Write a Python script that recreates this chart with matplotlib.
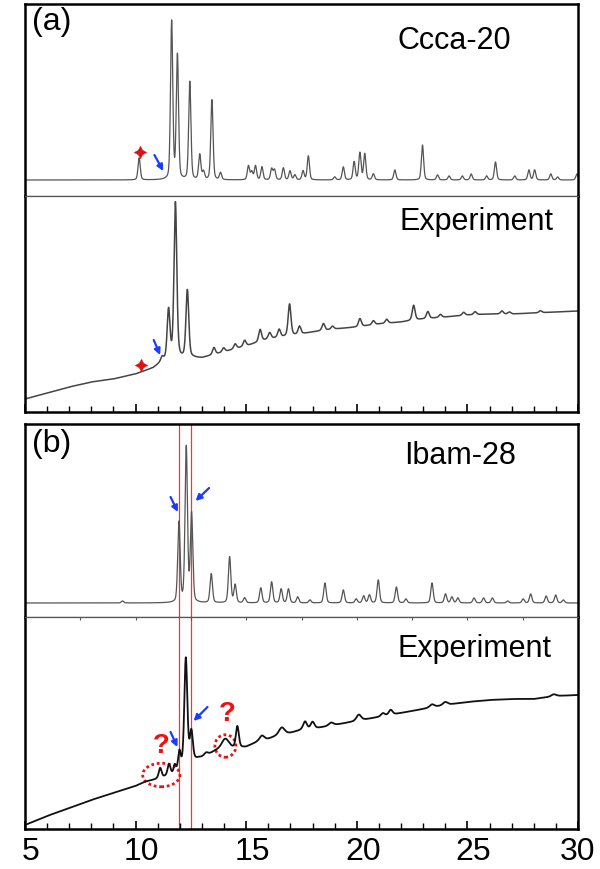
import numpy as np
import matplotlib.pyplot as plt
from matplotlib.patches import Ellipse
from matplotlib.ticker import MultipleLocator
from matplotlib.transforms import ScaledTranslation

plt.rcParams['font.family'] = ['Liberation Sans', 'DejaVu Sans']

# --- (a) Ccca-20 simulated pattern: peak positions (2theta) and heights
ccca_pos = [10.16, 11.63, 11.89, 12.45, 12.9, 13.07, 13.45, 13.84, 15.1, 15.25, 15.42, 15.71,
            16.15, 16.28, 16.68, 16.98, 17.2, 17.57, 17.81, 19.0, 19.39, 19.88, 20.14, 20.36,
            20.75, 21.72, 22.97, 23.65, 24.17, 24.77, 25.17, 25.87, 26.27, 27.14, 27.78, 28.04,
            28.77, 29.08, 29.95]
ccca_h = [22, 158, 124, 98, 25, 8, 80, 7, 14, 8, 14, 13,
          11, 10, 12, 9, 5, 9, 24, 3, 13, 18, 27, 26,
          6, 10, 35, 5, 4, 4, 6, 4, 18, 4, 10, 10,
          6, 3, 6]

# --- (a) experiment: peaks + background knots
expa_pos = [11.2, 11.49, 11.8, 12.34, 13.54, 13.98, 14.5, 14.93, 15.63, 16.06, 16.49, 16.96,
            17.41, 18.49, 18.9, 20.14, 20.75, 21.35, 22.57, 23.21, 23.78, 24.83, 25.35, 26.56,
            26.9, 28.3]
expa_h = [4, 50, 157, 68, 7, 4, 5, 6, 12, 6, 8, 32,
          8, 7, 3, 8, 4, 4, 15, 7, 3, 3, 3, 3,
          2, 2]
expa_bg_x = [5, 6, 7, 8, 8.5, 9, 10, 10.8, 11.2, 12.6, 13.0, 14, 15, 16, 17, 18, 19, 20, 21,
             22, 23, 24, 25, 26, 27, 28, 29, 30]
expa_bg_y = [13, 19, 25, 30, 31.5, 33, 38, 44, 50, 54, 54, 60, 66, 73, 76, 80, 83, 85, 88,
             90, 93, 95, 97, 98, 98, 99, 100, 101]

# --- (b) Ibam-28 simulated pattern
ibam_pos = [9.41, 11.96, 12.29, 12.53, 13.42, 14.25, 14.5, 14.93, 15.66, 16.15, 16.58, 16.91,
            17.33, 17.88, 18.56, 19.39, 19.97, 20.31, 20.57, 20.97, 21.79, 22.22, 23.4, 24.01,
            24.3, 24.57, 25.3, 25.73, 26.13, 26.82, 27.52, 27.86, 28.56, 28.99, 29.34]
ibam_h = [2, 80, 155, 88, 29, 46, 18, 5, 15, 21, 14, 14,
          6, 3, 20, 13, 4, 7, 8, 23, 16, 4, 20, 9,
          6, 5, 5, 5, 5, 2, 4, 9, 7, 8, 3]

# --- (b) experiment
expb_pos = [11.11, 11.51, 11.77, 11.98, 12.27, 12.52, 13.19, 14.06, 14.6, 15.71, 16.61, 17.66,
            18.0, 18.84, 20.09, 21.18, 21.53, 23.4, 24.0, 28.9]
expb_h = [10, 11, 8, 18, 108, 30, 3, 10, 22, 5, 7, 8,
          7, 3, 6, 3, 5, 3, 3, 2]
expb_w = [0.15, 0.15, 0.12, 0.14, 0.16, 0.16, 0.2, 0.4, 0.16, 0.25, 0.3, 0.2,
          0.2, 0.25, 0.25, 0.2, 0.2, 0.25, 0.25, 0.25]
expb_bg_x = [5, 6, 7, 8, 9, 10, 10.4, 11.0, 11.8, 12.0, 12.8, 13.2, 13.6, 14.0, 14.5, 15.0, 15.5,
             16.0, 16.5, 17.0, 17.5, 18.0, 19.0, 20.0, 21.0, 22.0, 23.0, 24.0, 25, 26, 27, 28, 29, 30]
expb_bg_y = [4, 13, 21, 29, 36, 43, 47, 50, 55, 58, 70, 73, 78, 80, 80, 82, 87,
             90, 94, 96, 99, 100, 104, 108, 112, 116, 120, 124, 127, 129, 130, 130, 133, 134]

red_lines = [11.95, 12.5]
xticks = [5, 10, 15, 20, 25, 30]


def pv(x, pos, h, w, eta=0.3):
    # pseudo-Voigt sum
    pos = np.asarray(pos, float)[:, None]
    h = np.asarray(h, float)[:, None]
    w = np.asarray(w, float)
    if w.ndim:
        w = w[:, None]
    d = (x[None, :] - pos) / w
    g = np.exp(-4 * np.log(2) * d ** 2)
    l = 1 / (1 + 4 * d ** 2)
    return (h * (eta * l + (1 - eta) * g)).sum(0)


x = np.linspace(5, 30, 6000)
y_ccca = pv(x, ccca_pos, ccca_h, 0.12)
y_expa = np.interp(x, expa_bg_x, expa_bg_y) + pv(x, expa_pos, expa_h, 0.15, 0.4)
y_ibam = pv(x, ibam_pos, ibam_h, 0.13)
y_expb = np.interp(x, expb_bg_x, expb_bg_y) + pv(x, expb_pos, expb_h, expb_w, 0.4)

fig = plt.figure(figsize=(6, 8.7), dpi=100)
L, W = 25 / 600, 553 / 600
ax_a1 = fig.add_axes([L, 1 - 197 / 870, W, 192 / 870])
ax_a2 = fig.add_axes([L, 1 - 413 / 870, W, 216 / 870])
ax_b1 = fig.add_axes([L, 1 - 618 / 870, W, 193 / 870])
ax_b2 = fig.add_axes([L, 1 - 830 / 870, W, 212 / 870])

ax_a1.plot(x, y_ccca, color='#555555', lw=0.9)
ax_a2.plot(x, y_expa, color='#444444', lw=1.1)
ax_b1.plot(x, y_ibam, color='#555555', lw=0.9)
ax_b2.plot(x, y_expb, color='#111111', lw=1.3)

ax_a1.set_ylim(-16, 176)
ax_a2.set_ylim(0, 216)
ax_b1.set_ylim(-14, 179)
ax_b2.set_ylim(0, 212)

for ax in (ax_a1, ax_a2, ax_b1, ax_b2):
    ax.set_xlim(5, 30)
    ax.set_yticks([])
    for s in ax.spines.values():
        s.set_linewidth(1.8)
        s.set_color('black')

for top, bot in ((ax_a1, ax_a2), (ax_b1, ax_b2)):
    top.spines['bottom'].set_linewidth(0.9)
    top.spines['bottom'].set_color('#555555')
    bot.spines['top'].set_linewidth(0.9)
    bot.spines['top'].set_color('#555555')
    top.set_xticks([])
    bot.set_xticks(xticks, labels=[str(t) for t in xticks])
    bot.xaxis.set_minor_locator(MultipleLocator(1))
    bot.tick_params(axis='x', which='major', direction='in', length=6, width=1.2,
                    labelsize=23, pad=5)
    bot.tick_params(axis='x', which='minor', direction='in', length=4, width=1.0)

ax_a2.tick_params(axis='x', which='major', labelbottom=False)
# labels in the reference sit a little right of their ticks (keep 30 inside the figure)
shift = ScaledTranslation(6 / 100, 0, fig.dpi_scale_trans)
for lab in ax_b2.get_xticklabels()[:-1]:
    lab.set_transform(lab.get_transform() + shift)

sec = ax_b2.secondary_xaxis('top')
sec.set_xticks(np.arange(7.5, 30, 2.5), labels=[])
sec.tick_params(direction='in', length=2, width=0.8, colors='#555555')
sec.spines['top'].set_visible(False)

# labels
ax_a1.text(0.013, 0.91, '(a)', transform=ax_a1.transAxes, fontsize=23, va='center', ha='left')
ax_a1.text(24.4, 0.81, 'Ccca-20', transform=ax_a1.get_xaxis_transform(), fontsize=22,
           va='center', ha='center')
ax_a2.text(25.4, 0.885, 'Experiment', transform=ax_a2.get_xaxis_transform(), fontsize=22,
           va='center', ha='center')
ax_b1.text(0.013, 0.9, '(b)', transform=ax_b1.transAxes, fontsize=23, va='center', ha='left')
ax_b1.text(24.67, 0.84, 'Ibam-28', transform=ax_b1.get_xaxis_transform(), fontsize=22,
           va='center', ha='center')
ax_b2.text(25.3, 0.855, 'Experiment', transform=ax_b2.get_xaxis_transform(), fontsize=22,
           va='center', ha='center')

# red stars
star = (4, 1, 0)
ax_a1.plot([10.22], [28], marker=star, color='#dd1111', ms=9, mew=0.3)
ax_a2.plot([10.24], [47], marker=star, color='#dd1111', ms=9, mew=0.3)

# blue arrows
arr = dict(arrowstyle='-|>', color='#1a3cff', lw=1.6, mutation_scale=9, shrinkA=0, shrinkB=0)
ax_a1.annotate('', xy=(11.25, 9), xytext=(10.85, 25), arrowprops=arr)
ax_a2.annotate('', xy=(11.11, 57), xytext=(10.82, 72), arrowprops=arr)
ax_b1.annotate('', xy=(11.91, 91), xytext=(11.58, 106), arrowprops=arr)
ax_b1.annotate('', xy=(12.71, 102), xytext=(13.32, 115), arrowprops=arr)
ax_b2.annotate('', xy=(11.89, 82), xytext=(11.58, 97), arrowprops=arr)
ax_b2.annotate('', xy=(12.62, 108), xytext=(13.25, 122), arrowprops=arr)

# red reference lines across (b)
for xv in red_lines:
    ax_b1.axvline(xv, color='#ff3030', lw=0.9, zorder=0)
    ax_b2.axvline(xv, color='#ff3030', lw=0.9, zorder=0)

# dotted ellipses and question marks
ax_b2.add_patch(Ellipse((11.16, 54), 1.68, 23.5, fill=False, ec='#ee1111', ls=(0, (1, 1)), lw=2.0))
ax_b2.add_patch(Ellipse((14.06, 83), 0.95, 22.5, fill=False, ec='#ee1111', ls=(0, (1, 1)), lw=2.0))
ax_b2.text(11.16, 84, '?', color='#ee1111', fontsize=20, fontweight='bold', ha='center', va='center')
ax_b2.text(14.15, 116, '?', color='#ee1111', fontsize=20, fontweight='bold', ha='center', va='center')

plt.savefig('out.png', dpi=100)
